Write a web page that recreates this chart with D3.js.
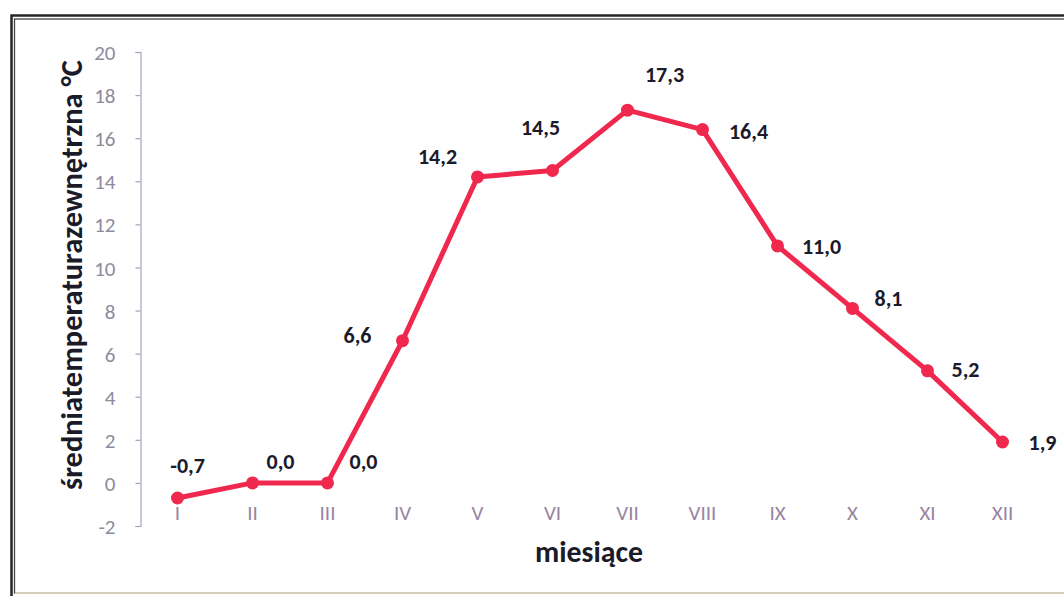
<!DOCTYPE html>
<html>
<head>
<meta charset="utf-8">
<script src="https://cdn.jsdelivr.net/npm/d3@7"></script>
<style>
  html, body { margin: 0; padding: 0; background: #ffffff; }
  svg { display: block; }
</style>
</head>
<body>
<svg id="chart" width="1064" height="596"></svg>
<script>
// ---- data ----
const months = ["I", "II", "III", "IV", "V", "VI", "VII", "VIII", "IX", "X", "XI", "XII"];
const temperatures = [-0.7, 0.0, 0.0, 6.6, 14.2, 14.5, 17.3, 16.4, 11.0, 8.1, 5.2, 1.9];
const yTicks = [-2, 0, 2, 4, 6, 8, 10, 12, 14, 16, 18, 20];
const yTitle = "średniatemperaturazewnętrzna °C";
const xTitle = "miesiące";
// label placement (pixel offsets from each point) – style, not data
const labelDx = [10, 28, 36, -45, -40, -12, 37, 46, 44, 36, 38, 40];
const labelDy = [-33, -22, -22, -6, -21, -43, -36, 2, 0, -10, -2, 0];

const svg = d3.select("#chart");
const FONT = "Carlito, Lato, 'Open Sans', sans-serif";

// ---- frame (double border) ----
svg.append("rect").attr("x", 11.5).attr("y", 15.5).attr("width", 1070).attr("height", 600)
  .attr("fill", "none").attr("stroke", "#262626").attr("stroke-width", 2.5);
svg.append("rect").attr("x", 14.5).attr("y", 19).attr("width", 1070).attr("height", 574)
  .attr("fill", "none").attr("stroke", "#444").attr("stroke-width", 1.3);
svg.append("line").attr("x1", 15).attr("x2", 1064).attr("y1", 593).attr("y2", 593)
  .attr("stroke", "#efe9cf").attr("stroke-width", 1.5);

// ---- scales ----
const x = d3.scaleBand().domain(months).range([140, 1040]).paddingInner(0).paddingOuter(0);
const y = d3.scaleLinear().domain([-2, 20]).range([526, 52]);
const cx = d => x(d) + x.bandwidth() / 2;

// ---- y axis ----
const yAxis = d3.axisLeft(y).tickValues(yTicks).tickSize(5).tickPadding(20)
  .tickFormat(d => d3.format("d")(d).replace("−", "-"));
const gy = svg.append("g").attr("transform", "translate(140.5,0)").call(yAxis);
gy.select(".domain").attr("stroke", "#a7a3b8").attr("stroke-width", 1.2);
gy.selectAll(".tick line").attr("stroke", "#a7a3b8").attr("stroke-width", 1.2);
gy.selectAll(".tick text").attr("fill", "#8d8a9c").attr("font-family", FONT)
  .attr("font-size", 21).attr("dy", "0.36em");

// ---- x axis (labels only, low position) ----
const xAxis = d3.axisBottom(x).tickSize(0).tickPadding(0);
const gx = svg.append("g").attr("transform", "translate(0,504)").call(xAxis);
gx.select(".domain").remove();
gx.selectAll(".tick text").attr("fill", "#98849f").attr("font-family", FONT)
  .attr("font-size", 21).attr("font-weight", 300).attr("dy", "0.75em");

// ---- axis titles ----
function fitText(sel, target) {
  const len = sel.node().getComputedTextLength();
  const fs = parseFloat(sel.attr("font-size"));
  sel.attr("font-size", fs * target / len);
}
const yt = svg.append("text").attr("transform", "translate(82,275) rotate(-90)")
  .attr("text-anchor", "middle").attr("font-family", FONT).attr("font-weight", "bold")
  .attr("font-size", 20).attr("fill", "#1a1a28").text(yTitle);
fitText(yt, 430);
const xt = svg.append("text").attr("x", 589).attr("y", 562)
  .attr("text-anchor", "middle").attr("font-family", FONT).attr("font-weight", "bold")
  .attr("font-size", 22).attr("fill", "#1a1a28").text(xTitle);
fitText(xt, 108);

// ---- line + markers ----
const data = months.map((m, i) => ({ m, v: temperatures[i], i }));
const RED = "#f0284e";
svg.append("path").datum(data)
  .attr("d", d3.line().x(d => cx(d.m)).y(d => y(d.v)))
  .attr("fill", "none").attr("stroke", RED).attr("stroke-width", 5)
  .attr("stroke-linejoin", "round").attr("stroke-linecap", "round");
svg.append("g").selectAll("circle").data(data).join("circle")
  .attr("cx", d => cx(d.m)).attr("cy", d => y(d.v)).attr("r", 6.5).attr("fill", RED);

// ---- data labels ----
const fmt = v => d3.format(".1f")(v).replace(".", ",").replace("−", "-");
svg.append("g").selectAll("text").data(data).join("text")
  .attr("x", d => cx(d.m) + labelDx[d.i]).attr("y", d => y(d.v) + labelDy[d.i])
  .attr("text-anchor", "middle").attr("dy", "0.36em")
  .attr("font-family", FONT).attr("font-weight", "bold").attr("font-size", 22)
  .attr("fill", "#1b1b2b").text(d => fmt(d.v));
</script>
</body>
</html>
